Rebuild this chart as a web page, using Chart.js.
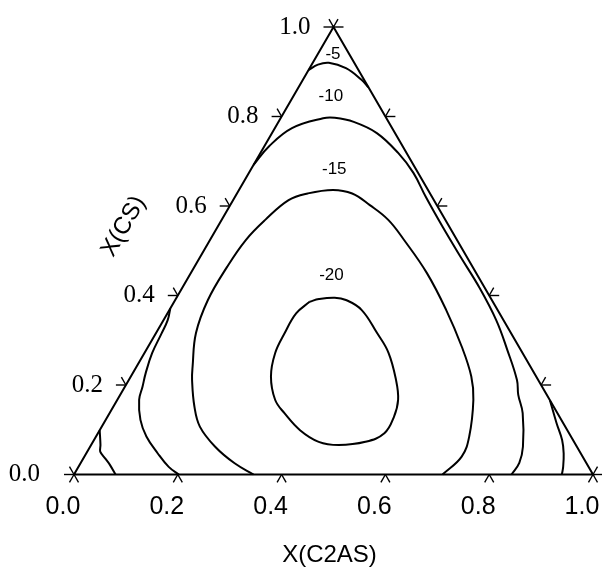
<!DOCTYPE html>
<html>
<head>
<meta charset="utf-8">
<script src="https://cdn.jsdelivr.net/npm/chart.js@4/dist/chart.umd.min.js"></script>
<style>
  html, body { margin: 0; padding: 0; background: #fff; }
  canvas { display: block; }
</style>
</head>
<body>
<canvas id="c" width="602" height="567"></canvas>
<script>
// Ternary axis ticks (mole fractions)
const tickValues = [0.0, 0.2, 0.4, 0.6, 0.8, 1.0];
const tickLabels = ['0.0', '0.2', '0.4', '0.6', '0.8', '1.0'];
const bottomTitle = 'X(C2AS)';
const leftTitle = 'X(CS)';

// Contour -5 (three pieces): X(C2AS) and X(CS) along each line
const m5TopC2AS   = [0.000, 0.012, 0.031, 0.070, 0.113, 0.135];
const m5TopCS     = [0.904, 0.916, 0.920, 0.908, 0.882, 0.865];
const m5LeftC2AS  = [0.000, 0.018, 0.025, 0.042, 0.059, 0.080];
const m5LeftCS    = [0.099, 0.066, 0.051, 0.036, 0.021, 0.000];
const m5RightC2AS = [0.834, 0.873, 0.902, 0.920, 0.934, 0.940];
const m5RightCS   = [0.166, 0.114, 0.077, 0.047, 0.017, 0.000];

// Contour -10 (lower-left piece and the long arc)
const m10LeftC2AS = [0.202, 0.174, 0.138, 0.097, 0.067, 0.042, 0.034, 0.025, 0.015, 0.011, 0.008, 0.000];
const m10LeftCS   = [0.000, 0.017, 0.047, 0.085, 0.122, 0.167, 0.196, 0.226, 0.271, 0.316, 0.345, 0.371];
const m10ArcC2AS  = [0.000, 0.009, 0.033, 0.082, 0.104, 0.145, 0.202, 0.266, 0.317, 0.368, 0.434, 0.502, 0.571, 0.641, 0.696, 0.748, 0.767, 0.796, 0.834, 0.845, 0.843];
const m10ArcCS    = [0.692, 0.733, 0.774, 0.796, 0.797, 0.788, 0.763, 0.718, 0.674, 0.620, 0.553, 0.486, 0.419, 0.345, 0.278, 0.211, 0.178, 0.137, 0.062, 0.026, 0.000];

// Contour -15
const m15C2AS = [0.346, 0.297, 0.241, 0.189, 0.156, 0.122, 0.108, 0.077, 0.063, 0.063, 0.069, 0.084, 0.107, 0.136, 0.181, 0.222, 0.269, 0.321, 0.374, 0.455, 0.533, 0.604, 0.656, 0.686, 0.719, 0.727, 0.710];
const m15CS   = [0.000, 0.025, 0.062, 0.107, 0.152, 0.211, 0.241, 0.316, 0.390, 0.464, 0.524, 0.569, 0.613, 0.628, 0.636, 0.628, 0.602, 0.569, 0.524, 0.450, 0.368, 0.286, 0.219, 0.167, 0.085, 0.040, 0.000];

// Contour -20 (closed loop)
const m20C2AS = [0.261, 0.276, 0.305, 0.329, 0.370, 0.426, 0.470, 0.515, 0.541, 0.552, 0.552, 0.525, 0.477, 0.435, 0.386, 0.337, 0.304, 0.270, 0.252, 0.248, 0.248, 0.261];
const m20CS   = [0.386, 0.392, 0.395, 0.390, 0.368, 0.316, 0.272, 0.211, 0.167, 0.129, 0.092, 0.073, 0.066, 0.073, 0.099, 0.137, 0.167, 0.219, 0.271, 0.316, 0.360, 0.386];

// Contour level labels and where they sit (composition)
const levelLabels = ['-5', '-10', '-15', '-20'];
const levelC2AS   = [0.029, 0.072, 0.160, 0.274];
const levelCS     = [0.940, 0.846, 0.683, 0.444];

// Triangle outline vertices
const frameC2AS = [0, 1, 0, 0];
const frameCS   = [0, 0, 1, 0];

// Composition -> cartesian (x along the base, y = height fraction)
function toXY(c2as, cs) {
  return c2as.map((a, i) => ({ x: a + cs[i] / 2, y: cs[i] }));
}

function lineSet(c2as, cs, width, tension) {
  return {
    data: toXY(c2as, cs),
    showLine: true,
    borderColor: '#000',
    borderWidth: width,
    pointRadius: 0,
    tension: tension,
    fill: false,
    clip: false
  };
}

const ternaryDecor = {
  id: 'ternaryDecor',
  afterDatasetsDraw(chart) {
    const { ctx, scales: { x, y } } = chart;
    const px = (a, c) => ({ x: x.getPixelForValue(a + c / 2), y: y.getPixelForValue(c) });
    const L = px(0, 0), R = px(1, 0), T = px(0, 1);
    const unit = (p, q) => {
      const dx = q.x - p.x, dy = q.y - p.y, d = Math.hypot(dx, dy);
      return { x: dx / d, y: dy / d };
    };
    const downLeft = unit(T, L), downRight = unit(T, R);
    const upLeft = unit(R, T), upRight = unit(L, T);
    const seg = (p, d, len) => {
      ctx.beginPath();
      ctx.moveTo(p.x, p.y);
      ctx.lineTo(p.x + d.x * len, p.y + d.y * len);
      ctx.stroke();
    };
    const tickLen = 10, armLen = 9;

    ctx.save();
    ctx.strokeStyle = '#000';
    ctx.lineWidth = 1.4;
    tickValues.forEach((t) => {
      // bottom axis
      const pb = px(t, 0);
      seg(pb, downLeft, armLen);
      seg(pb, downRight, armLen);
      // left axis
      const pl = px(0, t);
      seg(pl, { x: -1, y: 0 }, tickLen);
      seg(pl, upLeft, armLen);
      // right side
      const pr = px(1 - t, t);
      seg(pr, { x: 1, y: 0 }, tickLen);
      seg(pr, upRight, armLen);
    });

    ctx.fillStyle = '#000';
    // bottom tick labels
    ctx.font = '25px "Liberation Sans", Arial, sans-serif';
    ctx.textAlign = 'center';
    ctx.textBaseline = 'middle';
    tickValues.forEach((t, i) => {
      const p = px(t, 0);
      ctx.fillText(tickLabels[i], p.x - 11, p.y + 33);
    });
    // left tick labels
    ctx.font = '25px "Liberation Serif", "Times New Roman", serif';
    ctx.textAlign = 'right';
    tickValues.forEach((t, i) => {
      const p = px(0, t);
      const gap = t === 0 ? 24 : 13;
      ctx.fillText(tickLabels[i], p.x - tickLen - gap, p.y);
    });

    // axis titles
    ctx.font = '24px "Liberation Sans", Arial, sans-serif';
    ctx.textAlign = 'center';
    ctx.fillText(bottomTitle, (L.x + R.x) / 2 - 4, L.y + 81);
    const pt = px(0, 0.55);
    ctx.save();
    ctx.translate(pt.x - 93, pt.y - 2);
    ctx.rotate(-Math.atan2(L.y - T.y, T.x - L.x));
    ctx.fillText(leftTitle, 0, 0);
    ctx.restore();

    // contour level labels
    ctx.font = '17px "Liberation Sans", Arial, sans-serif';
    levelLabels.forEach((s, i) => {
      const p = px(levelC2AS[i], levelCS[i]);
      ctx.fillText(s, p.x, p.y);
    });
    ctx.restore();
  }
};

new Chart(document.getElementById('c'), {
  type: 'scatter',
  data: {
    datasets: [
      lineSet(frameC2AS, frameCS, 2, 0),
      lineSet(m5TopC2AS, m5TopCS, 2, 0.4),
      lineSet(m5LeftC2AS, m5LeftCS, 2, 0.3),
      lineSet(m5RightC2AS, m5RightCS, 2, 0.4),
      lineSet(m10LeftC2AS, m10LeftCS, 2, 0.4),
      lineSet(m10ArcC2AS, m10ArcCS, 2, 0.4),
      lineSet(m15C2AS, m15CS, 2, 0.4),
      lineSet(m20C2AS, m20CS, 2, 0.4)
    ]
  },
  options: {
    responsive: false,
    animation: false,
    devicePixelRatio: 1,
    layout: { padding: { left: 74, right: 9, top: 27, bottom: 92.5 } },
    scales: {
      x: { type: 'linear', min: 0, max: 1, display: false },
      y: { type: 'linear', min: 0, max: 1, display: false }
    },
    plugins: { legend: { display: false }, tooltip: { enabled: false } },
    events: []
  },
  plugins: [ternaryDecor]
});
</script>
</body>
</html>
